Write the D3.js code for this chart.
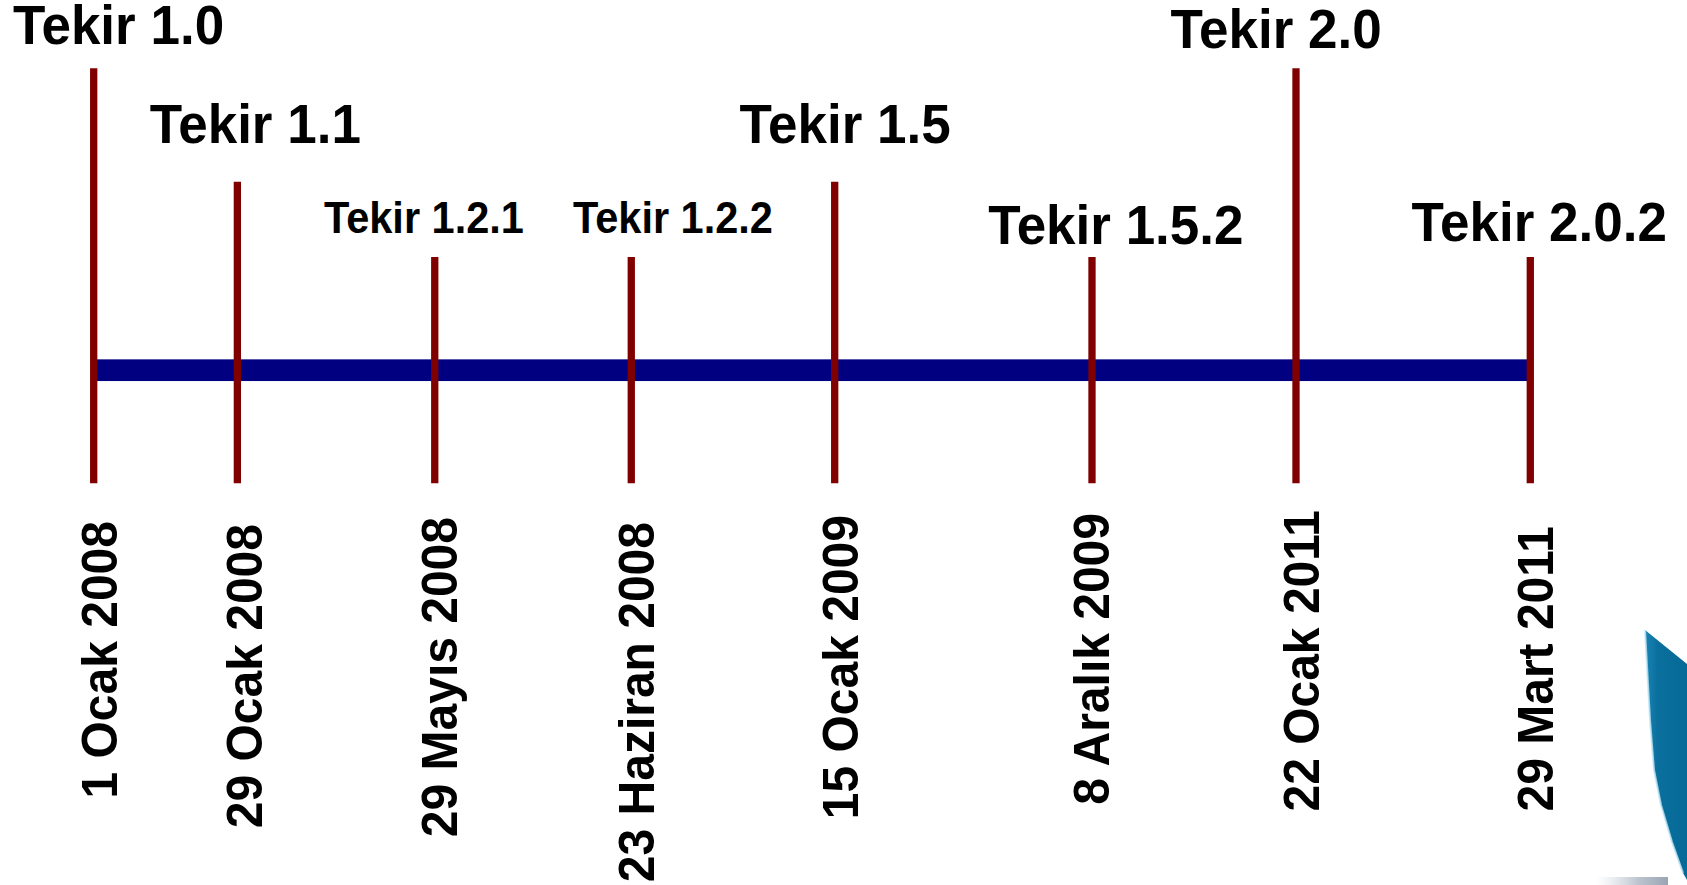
<!DOCTYPE html>
<html>
<head>
<meta charset="utf-8">
<script src="https://cdn.jsdelivr.net/npm/d3@7"></script>
<style>
  html, body { margin: 0; padding: 0; background: #ffffff; }
  svg { display: block; }
  text { font-family: "Liberation Sans", Arial, Helvetica, sans-serif; font-weight: bold; fill: #000; }
</style>
</head>
<body>
<svg id="chart" width="1687" height="885"></svg>
<script>
// ---- data ----
const versions = ["Tekir 1.0", "Tekir 1.1", "Tekir 1.2.1", "Tekir 1.2.2", "Tekir 1.5", "Tekir 1.5.2", "Tekir 2.0", "Tekir 2.0.2"];
const releaseDates = ["1 Ocak 2008", "29 Ocak 2008", "29 Mayıs 2008", "23 Haziran 2008", "15 Ocak 2009", "8 Aralık 2009", "22 Ocak 2011", "29 Mart 2011"];
const timelinePos = [0, 10, 23.74, 37.42, 51.58, 69.49, 83.69, 100];   // position along the timeline (0-100)
const tier = [3, 2, 1, 1, 2, 1, 3, 1];                                  // marker height level
const releaseKind = ["major", "major", "minor", "minor", "major", "major", "major", "major"];

// ---- layout (label nudges, not data) ----
const labelDx = [-80.7, -87.6, -110.8, -58.3, -95.1, -103.8, -125.4, -118.7];
const labelDy = [-24, -39, -23.7, -23.7, -39, -13, -20, -16.3];
const dateDx = [23, 24.5, 22.5, 23, 23.6, 17, 23, 22.4];
const dateTop = [521, 524, 517, 522, 515, 513, 510, 526];

const W = 1687, H = 885;
const svg = d3.select("#chart");

const x = d3.scaleLinear().domain([0, 100]).range([93.7, 1530.3]);
const topY = d3.scaleOrdinal().domain([1, 2, 3]).range([257, 181.7, 68.3]);
const baseY = 483.3;
const barY = 370.2, barH = 21.7;
const fontSize = d3.scaleOrdinal().domain(["major", "minor"]).range([53, 41.5]);
const SY = 1.05;

const data = versions.map((v, i) => ({
  v, date: releaseDates[i], pos: timelinePos[i], tier: tier[i], kind: releaseKind[i], i
}));

// decorative logo fragment (bottom right)
const defs = svg.append("defs");
const g1 = defs.append("linearGradient").attr("id", "logoGrad").attr("x1", "0").attr("y1", "0").attr("x2", "1").attr("y2", "0");
g1.append("stop").attr("offset", "0").attr("stop-color", "#1b85b5");
g1.append("stop").attr("offset", "0.3").attr("stop-color", "#0a6f9d");
g1.append("stop").attr("offset", "1").attr("stop-color", "#066a98");
const g2 = defs.append("linearGradient").attr("id", "greyGrad").attr("x1", "0").attr("y1", "0").attr("x2", "1").attr("y2", "0");
g2.append("stop").attr("offset", "0").attr("stop-color", "#c9d0da").attr("stop-opacity", 0);
g2.append("stop").attr("offset", "0.6").attr("stop-color", "#a9b3c1").attr("stop-opacity", 0.8);
g2.append("stop").attr("offset", "1").attr("stop-color", "#8f9aab").attr("stop-opacity", 0.9);

svg.append("path")
  .attr("d", "M1645,630 L1687,664 L1687,880 L1683,873 L1672,842 L1661,805 L1654,770 L1650,720 Z")
  .attr("fill", "url(#logoGrad)");
svg.append("path")
  .attr("d", "M1645,630 L1650,720 L1654,770 L1661,805 L1672,842 L1683,873")
  .attr("fill", "none").attr("stroke", "#bfe6f6").attr("stroke-width", 2).attr("opacity", 0.8);
svg.append("rect").attr("x", 1596).attr("y", 877).attr("width", 72).attr("height", 8)
  .attr("fill", "url(#greyGrad)");

// main timeline bar
svg.append("rect")
  .attr("x", x(0)).attr("y", barY - barH / 2)
  .attr("width", x(100) - x(0)).attr("height", barH)
  .attr("fill", "#000080");

// release markers
svg.selectAll("line.marker").data(data).join("line")
  .attr("class", "marker")
  .attr("x1", d => x(d.pos)).attr("x2", d => x(d.pos))
  .attr("y1", d => topY(d.tier)).attr("y2", baseY)
  .attr("stroke", "#800000").attr("stroke-width", 7.3).attr("stroke-linecap", "butt");

// version labels
svg.selectAll("text.ver").data(data).join("text")
  .attr("class", "ver")
  .attr("transform", d => `translate(${x(d.pos) + labelDx[d.i]},${topY(d.tier) + labelDy[d.i]}) scale(1,${SY})`)
  .style("font-size", d => fontSize(d.kind) + "px")
  .text(d => d.v);

// date labels (rotated)
svg.selectAll("text.date").data(data).join("text")
  .attr("class", "date")
  .attr("text-anchor", "end")
  .attr("transform", d => `translate(${x(d.pos) + dateDx[d.i]},${dateTop[d.i]}) rotate(-90) scale(1,${SY})`)
  .style("font-size", "48px")
  .text(d => d.date);
</script>
</body>
</html>
